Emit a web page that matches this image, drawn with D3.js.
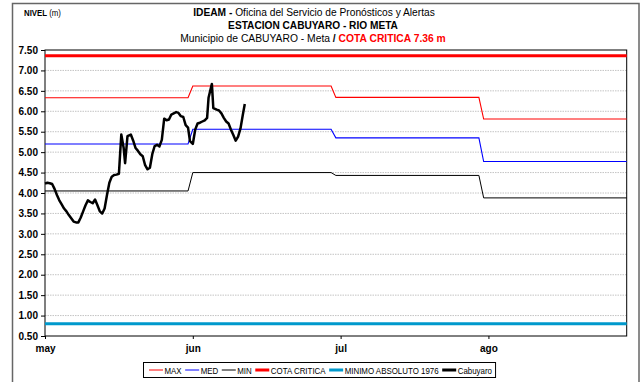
<!DOCTYPE html>
<html>
<head>
<meta charset="utf-8">
<script src="https://cdn.jsdelivr.net/npm/d3@7"></script>
<style>
  html, body { margin: 0; padding: 0; background: #fff; }
  svg { display: block; }
  .narrow { font-family: "Liberation Sans Narrow", "Arial Narrow", "Liberation Sans", Arial, sans-serif; }
  .sans { font-family: "Liberation Sans", Arial, sans-serif; }
</style>
</head>
<body>
<svg id="chart" width="643" height="382"></svg>
<script>
// Month labels and the day index (from 1 May) where each label sits
const monthLabels = ["may", "jun", "jul", "ago"];
const labelDays = [0, 31, 62, 93];
// First day index and length of each month in the series
const monthStart = [0, 31, 61, 92];
const monthLength = [31, 30, 31, 31];

// Reference levels per month (m)
const maxLevel = [6.33, 6.62, 6.34, 5.81];
const medLevel = [5.20, 5.56, 5.35, 4.77];
const minLevel = [4.05, 4.50, 4.43, 3.88];

// Fixed levels (m)
const cotaCritica = 7.36;
const minimoAbsoluto = 0.80;

// Observed stage at Cabuyaro: day offset from 1 May and level (m)
const cabuyaroDay = [
  0, 0.5, 1, 1.5, 2, 2.5, 3, 3.5, 4, 4.5, 5, 5.5, 6, 6.5, 7, 7.5, 8, 8.5, 9, 9.5,
  10, 10.5, 11, 11.5, 12, 12.5, 13, 13.5, 14, 14.5, 15, 15.5, 16, 16.5, 16.8, 17.3,
  18, 18.5, 19, 19.5, 20, 20.5, 21, 21.5, 22, 22.5, 23, 23.5, 24, 24.5, 25, 25.5,
  26, 26.5, 27, 27.5, 28, 28.5, 29, 29.5, 30, 30.4, 31, 31.5, 32, 32.5, 33, 33.5,
  34, 34.3, 35, 35.3, 36, 36.5, 37, 37.5, 38, 38.5, 39, 39.5, 40, 40.5, 41, 41.5, 41.9
];
const cabuyaroLevel = [
  4.23, 4.25, 4.24, 4.22, 4.10, 3.95, 3.82, 3.72, 3.62, 3.55, 3.46, 3.38, 3.30, 3.28, 3.28, 3.40, 3.55, 3.70, 3.82, 3.78,
  3.75, 3.84, 3.70, 3.55, 3.50, 3.62, 3.95, 4.25, 4.40, 4.44, 4.45, 4.47, 5.43, 5.10, 4.73, 5.39,
  5.43, 5.28, 5.10, 5.03, 4.95, 4.90, 4.68, 4.58, 4.62, 4.95, 5.15, 5.18, 5.14, 5.30, 5.82, 5.78,
  5.80, 5.92, 5.95, 5.98, 5.96, 5.88, 5.86, 5.66, 5.60, 5.27, 5.20, 5.55, 5.70, 5.72, 5.75, 5.78,
  5.84, 6.33, 6.67, 6.08, 6.04, 6.02, 5.95, 5.84, 5.75, 5.70, 5.55, 5.42, 5.28, 5.38, 5.58, 5.92, 6.18
];

// Y axis tick labels
const yTicks = [0.5, 1.0, 1.5, 2.0, 2.5, 3.0, 3.5, 4.0, 4.5, 5.0, 5.5, 6.0, 6.5, 7.0, 7.5];

// Legend entries
const legendItems = [
  { label: "MAX", color: "#ff0000", width: 1 },
  { label: "MED", color: "#0000ff", width: 1 },
  { label: "MIN", color: "#000000", width: 1 },
  { label: "COTA CRITICA", color: "#ff0000", width: 3 },
  { label: "MINIMO ABSOLUTO 1976", color: "#0099cc", width: 3 },
  { label: "Cabuyaro", color: "#000000", width: 3 }
];

const svg = d3.select("#chart");
const plot = { left: 45, right: 626.7, top: 50, bottom: 336 };
const lastDay = monthStart[3] + monthLength[3] - 1;

const x = d3.scaleLinear().domain([0, lastDay]).range([plot.left, plot.right]);
const y = d3.scaleLinear().domain([0.5, 7.5]).range([plot.bottom, plot.top]);

// Squeeze a text horizontally to a given width, keeping its anchor point
function fitWidth(sel, width, anchorX, baseY) {
  const w = sel.node().getComputedTextLength();
  const s = width / w;
  sel.attr("x", 0).attr("y", 0)
    .attr("transform", `translate(${anchorX},${baseY}) scale(${s},1)`);
}

// Outer frame (runs off the bottom edge)
svg.append("rect")
  .attr("x", 12.5).attr("y", 3.5).attr("width", 626.5).attr("height", 390)
  .attr("fill", "#fff").attr("stroke", "#666").attr("stroke-width", 1.5);

// Horizontal dotted gridlines
svg.append("g")
  .selectAll("line")
  .data(yTicks.slice(1, -1))
  .join("line")
  .attr("x1", plot.left).attr("x2", plot.right)
  .attr("y1", d => y(d)).attr("y2", d => y(d))
  .attr("stroke", "#c4c4c4").attr("stroke-width", 1)
  .attr("stroke-dasharray", "1.5,1");

// Plot border
svg.append("rect")
  .attr("x", plot.left).attr("y", plot.top)
  .attr("width", plot.right - plot.left).attr("height", plot.bottom - plot.top)
  .attr("fill", "none").attr("stroke", "#000").attr("stroke-width", 1);

// Y axis
const yAxis = d3.axisLeft(y).tickValues(yTicks).tickSize(4).tickPadding(3)
  .tickFormat(d3.format(".2f"));
const gy = svg.append("g").attr("transform", `translate(${plot.left},0)`).call(yAxis);
gy.select(".domain").remove();
gy.selectAll("text").attr("class", "sans").attr("font-size", 10).attr("font-weight", "bold").attr("fill", "#000");

// X axis
const xAxis = d3.axisBottom(x).tickValues(labelDays).tickSize(3).tickPadding(6)
  .tickFormat((d, i) => monthLabels[i]);
const gx = svg.append("g").attr("transform", `translate(0,${plot.bottom})`).call(xAxis);
gx.select(".domain").remove();
gx.selectAll("text").attr("class", "sans").attr("font-size", 10).attr("font-weight", "bold").attr("fill", "#000");

// Monthly step series
function stepPoints(levels) {
  const pts = [];
  levels.forEach((v, i) => {
    pts.push([monthStart[i], v]);
    pts.push([monthStart[i] + monthLength[i] - 1, v]);
  });
  return pts;
}
const line = d3.line().x(d => x(d[0])).y(d => y(d[1]));

svg.append("path").datum(stepPoints(minLevel)).attr("d", line)
  .attr("fill", "none").attr("stroke", "#000").attr("stroke-width", 1);
svg.append("path").datum(stepPoints(medLevel)).attr("d", line)
  .attr("fill", "none").attr("stroke", "#0000ff").attr("stroke-width", 1.1);
svg.append("path").datum(stepPoints(maxLevel)).attr("d", line)
  .attr("fill", "none").attr("stroke", "#ff0000").attr("stroke-width", 1.1);

// Fixed reference levels
svg.append("line")
  .attr("x1", x(0)).attr("x2", x(lastDay))
  .attr("y1", y(cotaCritica)).attr("y2", y(cotaCritica))
  .attr("stroke", "#ff0000").attr("stroke-width", 3);
svg.append("line")
  .attr("x1", x(0)).attr("x2", x(lastDay))
  .attr("y1", y(minimoAbsoluto)).attr("y2", y(minimoAbsoluto))
  .attr("stroke", "#0099cc").attr("stroke-width", 3);

// Observed series
svg.append("path")
  .datum(cabuyaroDay.map((d, i) => [d, cabuyaroLevel[i]]))
  .attr("d", line)
  .attr("fill", "none").attr("stroke", "#000").attr("stroke-width", 2.5)
  .attr("stroke-linejoin", "round");

// Titles
const title = svg.append("g").attr("class", "narrow").attr("text-anchor", "middle").attr("fill", "#000");
const t1 = title.append("text").attr("font-size", 11.5);
t1.append("tspan").attr("font-weight", "bold").text("IDEAM - ");
t1.append("tspan").text("Oficina del Servicio de Pronósticos y Alertas");
fitWidth(t1, 242, 314, 16);
const t2 = title.append("text").attr("font-size", 11.5).attr("font-weight", "bold")
  .text("ESTACION CABUYARO - RIO META");
fitWidth(t2, 170, 313, 29);
const t3 = title.append("text").attr("font-size", 11.5);
t3.append("tspan").text("Municipio de CABUYARO - Meta ");
t3.append("tspan").attr("font-weight", "bold").text(" /  ");
t3.append("tspan").attr("font-weight", "bold").attr("fill", "#ff0000").text("COTA CRITICA 7.36 m");
fitWidth(t3, 266, 313, 42);

const nivel = svg.append("text").attr("class", "narrow").attr("font-size", 9);
nivel.append("tspan").attr("font-weight", "bold").text("NIVEL ");
nivel.append("tspan").text("(m)");
fitWidth(nivel, 37, 24, 16);

// Legend
const legend = svg.append("g").attr("class", "narrow");
const legBox = legend.append("rect")
  .attr("y", 362.5).attr("height", 15)
  .attr("fill", "#fff").attr("stroke", "#000").attr("stroke-width", 1);
const legendScale = 0.88;
let lx = 149;
legendItems.forEach(item => {
  legend.append("line")
    .attr("x1", lx).attr("x2", lx + 14).attr("y1", 370).attr("y2", 370)
    .attr("stroke", item.color).attr("stroke-width", item.width);
  const txt = legend.append("text").attr("font-size", 9).attr("fill", "#000").text(item.label);
  const w = txt.node().getComputedTextLength() * legendScale;
  fitWidth(txt, w, lx + 15.5, 373.5);
  lx += 15.5 + w + 3.5;
});
legBox.attr("x", 143.5).attr("width", lx - 143.5);
</script>
</body>
</html>
